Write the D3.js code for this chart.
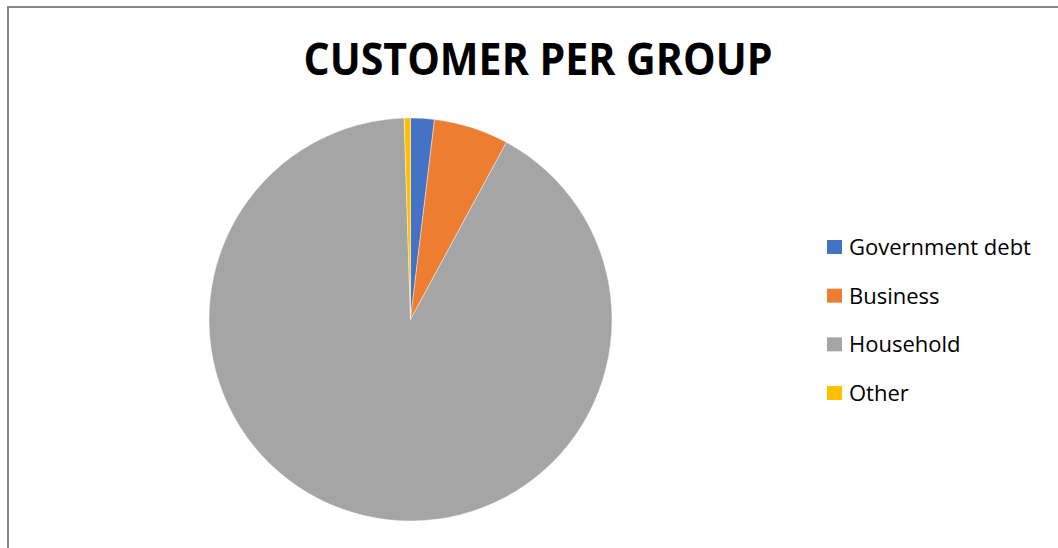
<!DOCTYPE html>
<html>
<head>
<meta charset="utf-8">
<style>
  body { margin: 0; background: #fff; }
  .title { font-family: "Open Sans", sans-serif; font-weight: bold; fill: #000; }
  .legend text { font-family: "Open Sans", sans-serif; fill: #000; }
</style>
</head>
<body>
<script src="https://d3js.org/d3.v7.min.js"></script>
<div class="chart"></div>
<script>
// data (share of customers, %)
var groups = ["Government debt", "Business", "Household", "Other"];
var shares = [1.9, 6.0, 91.6, 0.5];
var colors = ["#4472C4", "#ED7D31", "#A5A5A5", "#FFC000"];

var width = 1058, height = 548;

var svg = d3.select(".chart").append("svg")
    .attr("width", width)
    .attr("height", height);

// chart frame (cut off at right and bottom)
svg.append("rect")
    .attr("x", 8).attr("y", 7)
    .attr("width", width + 20).attr("height", height + 20)
    .attr("fill", "none")
    .attr("stroke", "#878787")
    .attr("stroke-width", 2);

svg.append("text")
    .attr("class", "title")
    .attr("x", 538).attr("y", 75)
    .attr("text-anchor", "middle")
    .attr("font-size", 44)
    .attr("textLength", 469)
    .attr("lengthAdjust", "spacingAndGlyphs")
    .text("CUSTOMER PER GROUP");

var cx = 410.5, cy = 319.5, r = 201.5;

var pie = d3.pie().sort(null).value(function(d) { return d; });
var arc = d3.arc().innerRadius(0).outerRadius(r);
var color = d3.scaleOrdinal().domain(groups).range(colors);

var g = svg.append("g").attr("transform", "translate(" + cx + "," + cy + ")");

g.selectAll("path")
    .data(pie(shares))
    .enter().append("path")
    .attr("d", arc)
    .attr("fill", function(d, i) { return color(groups[i]); })
    .attr("stroke", "#fff")
    .attr("stroke-width", 0.4);

// legend
var y = d3.scalePoint().domain(groups).range([247, 393]);

var legend = svg.append("g").attr("class", "legend")
    .selectAll("g")
    .data(groups)
    .enter().append("g")
    .attr("transform", function(d) { return "translate(827," + y(d) + ")"; });

legend.append("rect")
    .attr("x", 0).attr("y", -7)
    .attr("width", 15).attr("height", 14)
    .attr("fill", function(d) { return color(d); });

legend.append("text")
    .attr("x", 22).attr("y", 8)
    .attr("font-size", 22)
    .text(function(d) { return d; });
</script>
</body>
</html>
